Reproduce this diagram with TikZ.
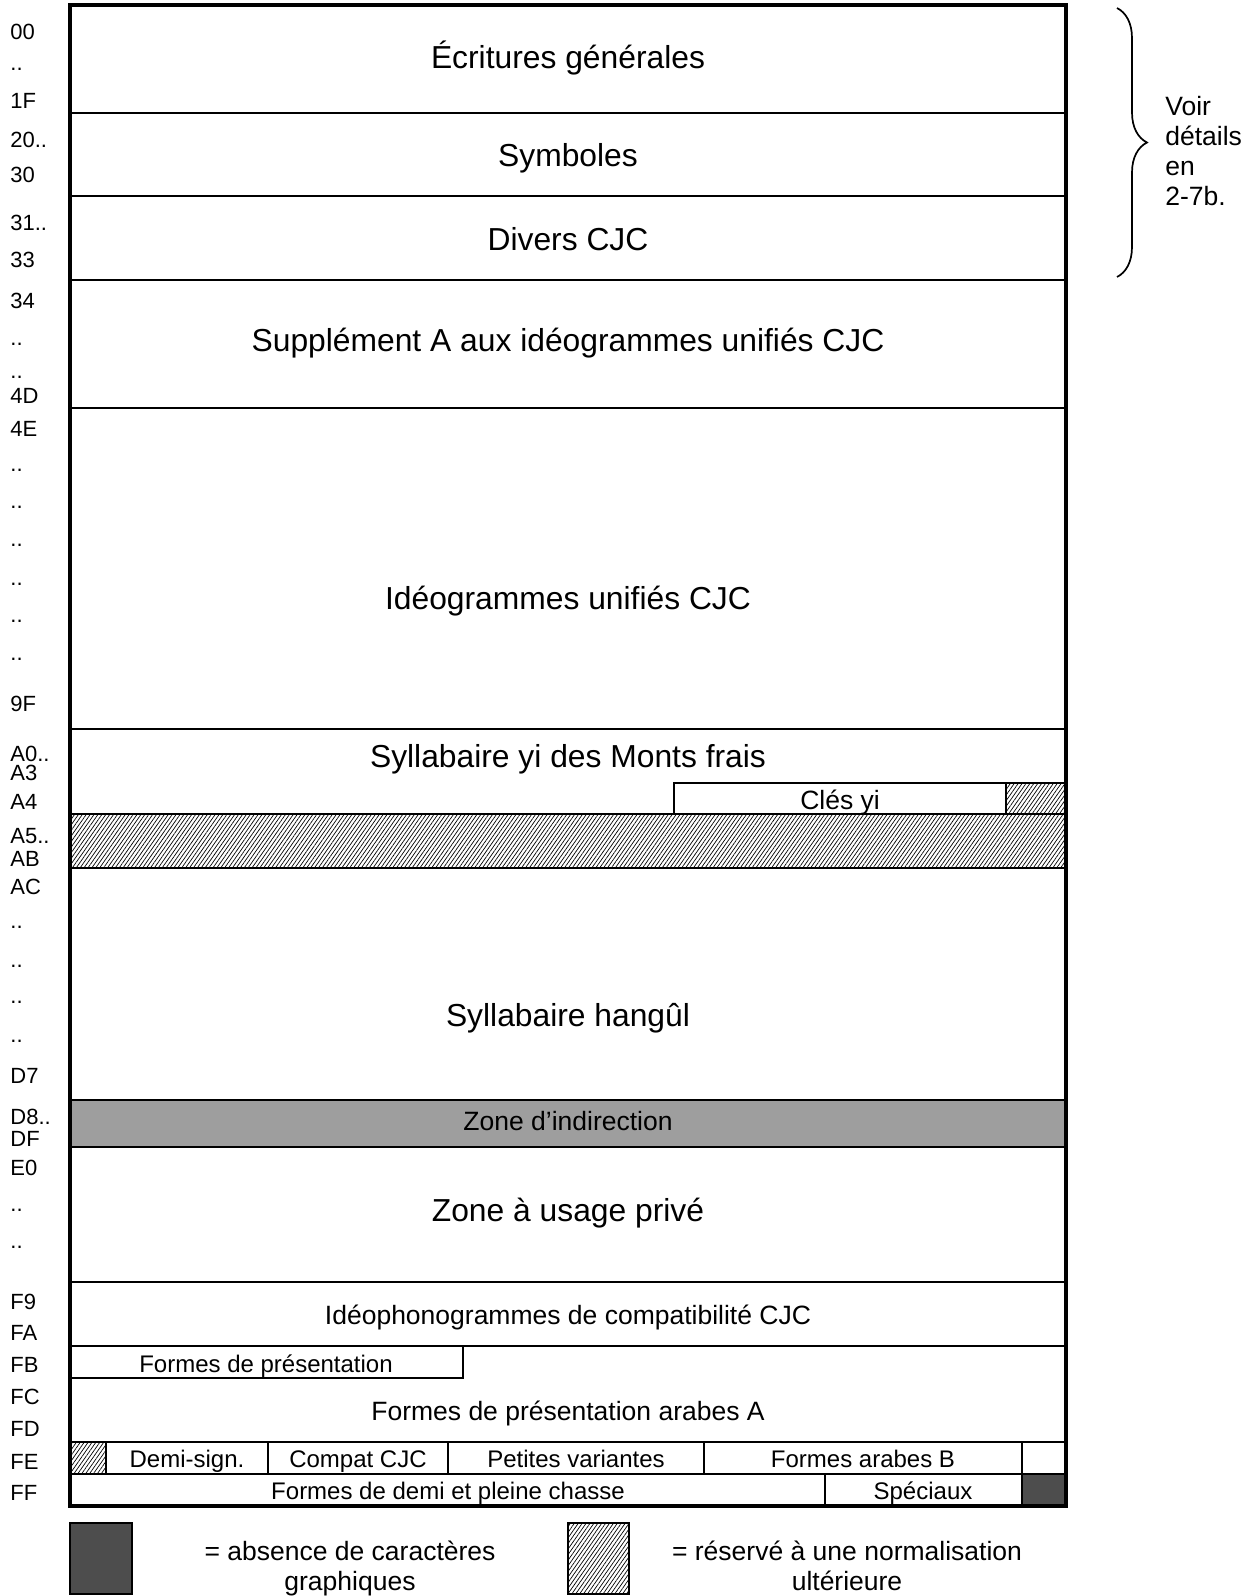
\documentclass[tikz,border=0pt]{standalone}
\usepackage{fontspec}
\setmainfont{Liberation Sans}
\usetikzlibrary{patterns.meta,decorations.pathreplacing}
\definecolor{VoidGray}{HTML}{4D4D4D}
\definecolor{IndirGray}{HTML}{9E9E9E}

\begin{document}
\begin{tikzpicture}[x=0.5pt, y=-0.5pt,
  sep/.style={line width=0.95pt},
  frame/.style={line width=2.2pt},
  hatch/.style={pattern={Lines[angle=55,distance=1.6pt,line width=0.35pt]}},
  big/.style={inner sep=0pt, text height=11.6pt, text depth=0pt, font=\fontsize{15.9}{19}\selectfont},
  mid/.style={inner sep=0pt, text height=9.7pt, text depth=0pt, font=\fontsize{13.25}{16}\selectfont},
  small/.style={inner sep=0pt, text height=8.8pt, text depth=0pt, font=\fontsize{12}{14}\selectfont},
  hex/.style={inner sep=0pt, anchor=west, text height=8pt, text depth=0pt, font=\fontsize{11}{13}\selectfont}
]
  \useasboundingbox (0,0) rectangle (1257,1596);

  % shaded zones first
  \fill[hatch] (70,814) rectangle (1066,868);
  \fill[IndirGray] (70,1100) rectangle (1066,1147);

  % row separators
  \foreach \y in {113,196,280,408,729,814,868,1100,1147,1282,1346,1442,1474}
    \draw[sep] (70,\y) -- (1066,\y);

  % partial cells
  \draw[sep] (674,783) rectangle (1006,814);
  \draw[sep, hatch] (1006,783) rectangle (1066,814);
  \draw[sep] (70,1346) rectangle (463,1378);
  \draw[sep, hatch] (70,1442) rectangle (106,1474);
  \foreach \x in {268,448,704,1022}
    \draw[sep] (\x,1442) -- (\x,1474);
  \draw[sep] (825,1474) -- (825,1506);
  \draw[sep, fill=VoidGray] (1022,1474) rectangle (1066,1506);

  % outer frame
  \draw[frame] (70,5) rectangle (1066,1506);

  % zone names
  \node[big] (ecrit)  at (568,57)   {Écritures générales};
  \node[big] (symb)   at (568,155)  {Symboles};
  \node[big] (divers) at (568,239)  {Divers CJC};
  \node[big] (suppa)  at (568,340)  {Supplément A aux idéogrammes unifiés CJC};
  \node[big] (ideo)   at (568,598)  {Idéogrammes unifiés CJC};
  \node[big] (yi)     at (568,756)  {Syllabaire yi des Monts frais};
  \node[mid] (cles)   at (840,800)  {Clés yi};
  \node[big] (hangul) at (568,1015) {Syllabaire hangûl};
  \node[mid] (indir)  at (568,1121) {Zone d’indirection};
  \node[big] (prive)  at (568,1210) {Zone à usage privé};
  \node[mid] (compat) at (568,1315) {Idéophonogrammes de compatibilité CJC};
  \node[small] (pres) at (266,1364) {Formes de présentation};
  \node[mid] (arabA)  at (568,1411) {Formes de présentation arabes A};
  \node[small] (demi)    at (187,1459) {Demi-sign.};
  \node[small] (compcjc) at (358,1459) {Compat CJC};
  \node[small] (petites) at (576,1459) {Petites variantes};
  \node[small] (arabB)   at (863,1459) {Formes arabes B};
  \node[small] (chasse)  at (448,1491) {Formes de demi et pleine chasse};
  \node[small] (spec)    at (923,1491) {Spéciaux};

  % row numbers
  \foreach \lab/\y [count=\i] in {00/31, ../62, 1F/100, 20../139, 30/174,
      31../222, 33/259, 34/300, ../337, ../370, 4D/395, 4E/428,
      ../463, ../500, ../538, ../577, ../614, ../652, 9F/703,
      A0../753, A3/772, A4/801, A5../835, AB/858, AC/886,
      ../920, ../959, ../995, ../1034, D7/1075, D8../1116, DF/1138,
      E0/1167, ../1203, ../1240, F9/1301, FA/1332, FB/1364, FC/1396,
      FD/1428, FE/1461, FF/1492}
    \node[hex] (hex\i) at (10,\y) {\lab};

  % brace
  \coordinate (bracetop) at (1117,8);
  \coordinate (bracebot) at (1117,277);
  \draw[line width=0.85pt, decorate, decoration={brace, amplitude=15pt, aspect=0.5}]
    (bracetop) -- (bracebot);
  \foreach \t [count=\i] in {Voir, détails, en, 2-7b.}
    \node[mid, anchor=west] (voir\i) at (1165,76+30*\i) {\t};

  % legend
  \draw[sep, fill=VoidGray] (70,1523) rectangle (132,1594);
  \node[mid] (absent1) at (350,1551) {= absence de caractères};
  \node[mid] (absent2) at (350,1581) {graphiques};
  \draw[sep, hatch] (568,1523) rectangle (629,1594);
  \node[mid] (reserve1) at (847,1551) {= réservé à une normalisation};
  \node[mid] (reserve2) at (847,1581) {ultérieure};
\end{tikzpicture}
\end{document}
